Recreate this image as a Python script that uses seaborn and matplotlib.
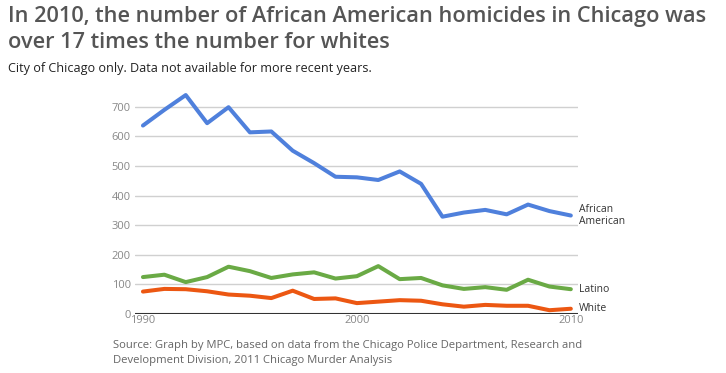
import pandas as pd
import matplotlib.pyplot as plt
import seaborn as sns

sns.set_style("white")
plt.rcParams["font.family"] = ["Open Sans", "DejaVu Sans"]

# data
years = list(range(1990, 2011))
african_american = [637, 690, 740, 645, 699, 614, 617, 552, 510, 464, 462,
                    453, 482, 440, 329, 343, 352, 337, 370, 348, 333]
latino = [125, 133, 108, 125, 160, 145, 122, 134, 141, 120, 128,
          162, 118, 122, 97, 85, 91, 82, 116, 93, 84]
white = [76, 85, 84, 77, 66, 62, 54, 79, 51, 53, 37,
         42, 47, 45, 33, 25, 31, 28, 28, 13, 18]

groups = ["African\nAmerican", "Latino", "White"]
colors = ["#4f80dc", "#6aaa45", "#ec5712"]

df = pd.DataFrame({"year": years * 3,
                   "n": african_american + latino + white,
                   "group": sum([[g] * len(years) for g in groups], [])})

fig = plt.figure(figsize=(7.26, 3.73), dpi=100)
ax = fig.add_axes([0.186, 0.158, 0.61, 0.603])

sns.lineplot(data=df, x="year", y="n", hue="group", palette=colors,
             linewidth=2.9, legend=False, ax=ax, solid_capstyle="round",
             solid_joinstyle="round", zorder=3)

ax.set_xlim(1989.63, 2010.33)
ax.set_ylim(0, 760)
ax.set_yticks(range(0, 800, 100))
ax.set_xticks([1990, 2000, 2010])
ax.grid(axis="y", color="#d0d0d0", linewidth=1)
ax.axhline(0, color="#333333", linewidth=1.5, zorder=4)
for s in ax.spines.values():
    s.set_visible(False)
ax.tick_params(axis="both", length=0, labelsize=8, labelcolor="#888888", pad=3)
ax.tick_params(axis="x", pad=1)
ax.set_xlabel("")
ax.set_ylabel("")

# line end labels
ends = [african_american[-1], latino[-1], white[-1]]
for g, v in zip(groups, ends):
    ax.annotate(g, xy=(years[-1], v), xytext=(6, 0), textcoords="offset points",
                va="center", ha="left", fontsize=7.5, color="#333333",
                linespacing=1.1, annotation_clip=False)

title_font = dict(fontsize=15.7, color="#555555", fontweight="semibold")
fig.text(0.011, 0.94, "In 2010, the number of African American homicides in Chicago was",
         **title_font)
fig.text(0.011, 0.871, "over 17 times the number for whites", **title_font)
fig.text(0.011, 0.806, "City of Chicago only. Data not available for more recent years.",
         fontsize=9.1, color="#222222")
fig.text(0.156, 0.067, "Source: Graph by MPC, based on data from the Chicago Police Department, Research and",
         fontsize=8.1, color="#666666")
fig.text(0.156, 0.026, "Development Division, 2011 Chicago Murder Analysis",
         fontsize=8.1, color="#666666")

fig.savefig("out.png", dpi=100)
